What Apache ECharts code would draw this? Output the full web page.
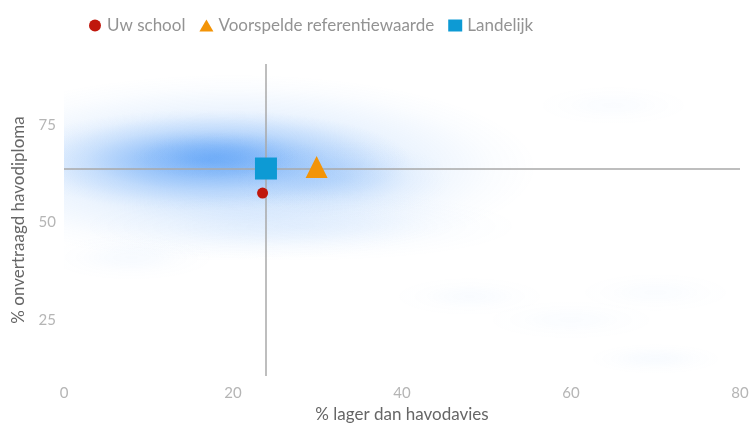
<!DOCTYPE html>
<html>
<head>
<meta charset="utf-8">
<script src="https://cdn.jsdelivr.net/npm/echarts@6/dist/echarts.min.js"></script>
<style>
  html, body { margin: 0; padding: 0; background: #fff; }
  #main { width: 753px; height: 423px; }
</style>
</head>
<body>
<div id="main"></div>
<script>
// punten
var uwSchool = [[23.5, 57.5]];
var referentie = [[29.9, 64.2]];
var landelijk = [[23.9, 63.8]];

// dichtheid van alle scholen: x, y, spreiding x, spreiding y, sterkte
var dichtheid = [
  [20, 64, 36, 24, 0.32],
  [17, 66, 24, 13, 0.48],
  [18, 67, 10, 6, 0.25],
  [33, 61, 13, 10, 0.14],
  [28, 49, 26, 9, 0.08],
  [8, 41, 10, 6, 0.04],
  [48, 31, 9, 5, 0.03],
  [60, 25, 10, 5, 0.025],
  [70, 32, 9, 5, 0.025],
  [70, 15, 8, 4, 0.035],
  [65, 80, 9, 5, 0.025]
];

var xTicks = [0, 20, 40, 60, 80];
var yTicks = [25, 50, 75];

var font = 'Lato';
var myChart = echarts.init(document.getElementById('main'));

var option = {
  animation: false,
  textStyle: { fontFamily: font },
  legend: {
    data: ['Uw school', 'Voorspelde referentiewaarde', 'Landelijk'],
    top: 12,
    left: 84,
    itemWidth: 14,
    itemHeight: 12,
    itemGap: 14,
    textStyle: { color: '#939393', fontSize: 17, fontFamily: font }
  },
  grid: { left: 64, right: 13, top: 64, bottom: 47, outerBoundsMode: 'none', containLabel: false },
  xAxis: {
    type: 'value',
    min: xTicks[0],
    max: xTicks[xTicks.length - 1],
    interval: 20,
    name: '% lager dan havodavies',
    nameLocation: 'middle',
    nameGap: 29,
    nameTextStyle: { color: '#666', fontSize: 17 },
    axisLine: { show: false },
    axisTick: { show: false },
    splitLine: { show: false },
    axisLabel: { color: '#b5b5b5', fontSize: 15, margin: 10 }
  },
  yAxis: {
    type: 'value',
    min: 10.6,
    max: 90.6,
    name: '% onvertraagd havodiploma',
    nameLocation: 'middle',
    nameGap: 37,
    nameTextStyle: { color: '#666', fontSize: 17 },
    axisLine: { show: false },
    axisTick: { show: false },
    splitLine: { show: false },
    axisLabel: { color: '#b5b5b5', fontSize: 15, margin: 8, customValues: yTicks }
  },
  series: [
    {
      name: 'dichtheid',
      type: 'custom',
      clip: true,
      silent: true,
      z: 1,
      data: dichtheid,
      renderItem: function (params, api) {
        var c = api.coord([api.value(0), api.value(1)]);
        var s = api.size([api.value(2), api.value(3)]);
        var a = api.value(4);
        var rx = Math.abs(s[0]), ry = Math.abs(s[1]);
        var kleur = function (f) { return 'rgba(55,140,245,' + (a * f).toFixed(3) + ')'; };
        return {
          type: 'circle',
          x: c[0],
          y: c[1],
          scaleX: rx / ry,
          scaleY: 1,
          shape: { cx: 0, cy: 0, r: ry },
          style: {
            fill: {
              type: 'radial', x: 0.5, y: 0.5, r: 0.5,
              colorStops: [
                { offset: 0, color: kleur(1) },
                { offset: 0.3, color: kleur(0.75) },
                { offset: 0.6, color: kleur(0.3) },
                { offset: 0.85, color: kleur(0.07) },
                { offset: 1, color: kleur(0) }
              ]
            }
          }
        };
      }
    },
    {
      name: 'Uw school',
      type: 'scatter',
      symbol: 'circle',
      symbolSize: 11,
      z: 5,
      itemStyle: { color: '#c0170c', opacity: 1 },
      data: uwSchool
    },
    {
      name: 'Voorspelde referentiewaarde',
      type: 'scatter',
      symbol: 'triangle',
      symbolSize: 22,
      z: 5,
      itemStyle: { color: '#f39407', opacity: 1 },
      data: referentie
    },
    {
      name: 'Landelijk',
      type: 'scatter',
      symbol: 'rect',
      symbolSize: 22,
      z: 5,
      itemStyle: { color: '#0d9ad4', opacity: 1 },
      data: landelijk
    },
    {
      name: 'kruis',
      type: 'scatter',
      data: [],
      z: 10,
      silent: true,
      markLine: {
        silent: true,
        symbol: 'none',
        animation: false,
        label: { show: false },
        lineStyle: { color: '#a9a9a9', width: 1.5, type: 'solid' },
        data: [{ xAxis: landelijk[0][0] }, { yAxis: landelijk[0][1] }]
      }
    }
  ]
};

myChart.setOption(option);
</script>
</body>
</html>
